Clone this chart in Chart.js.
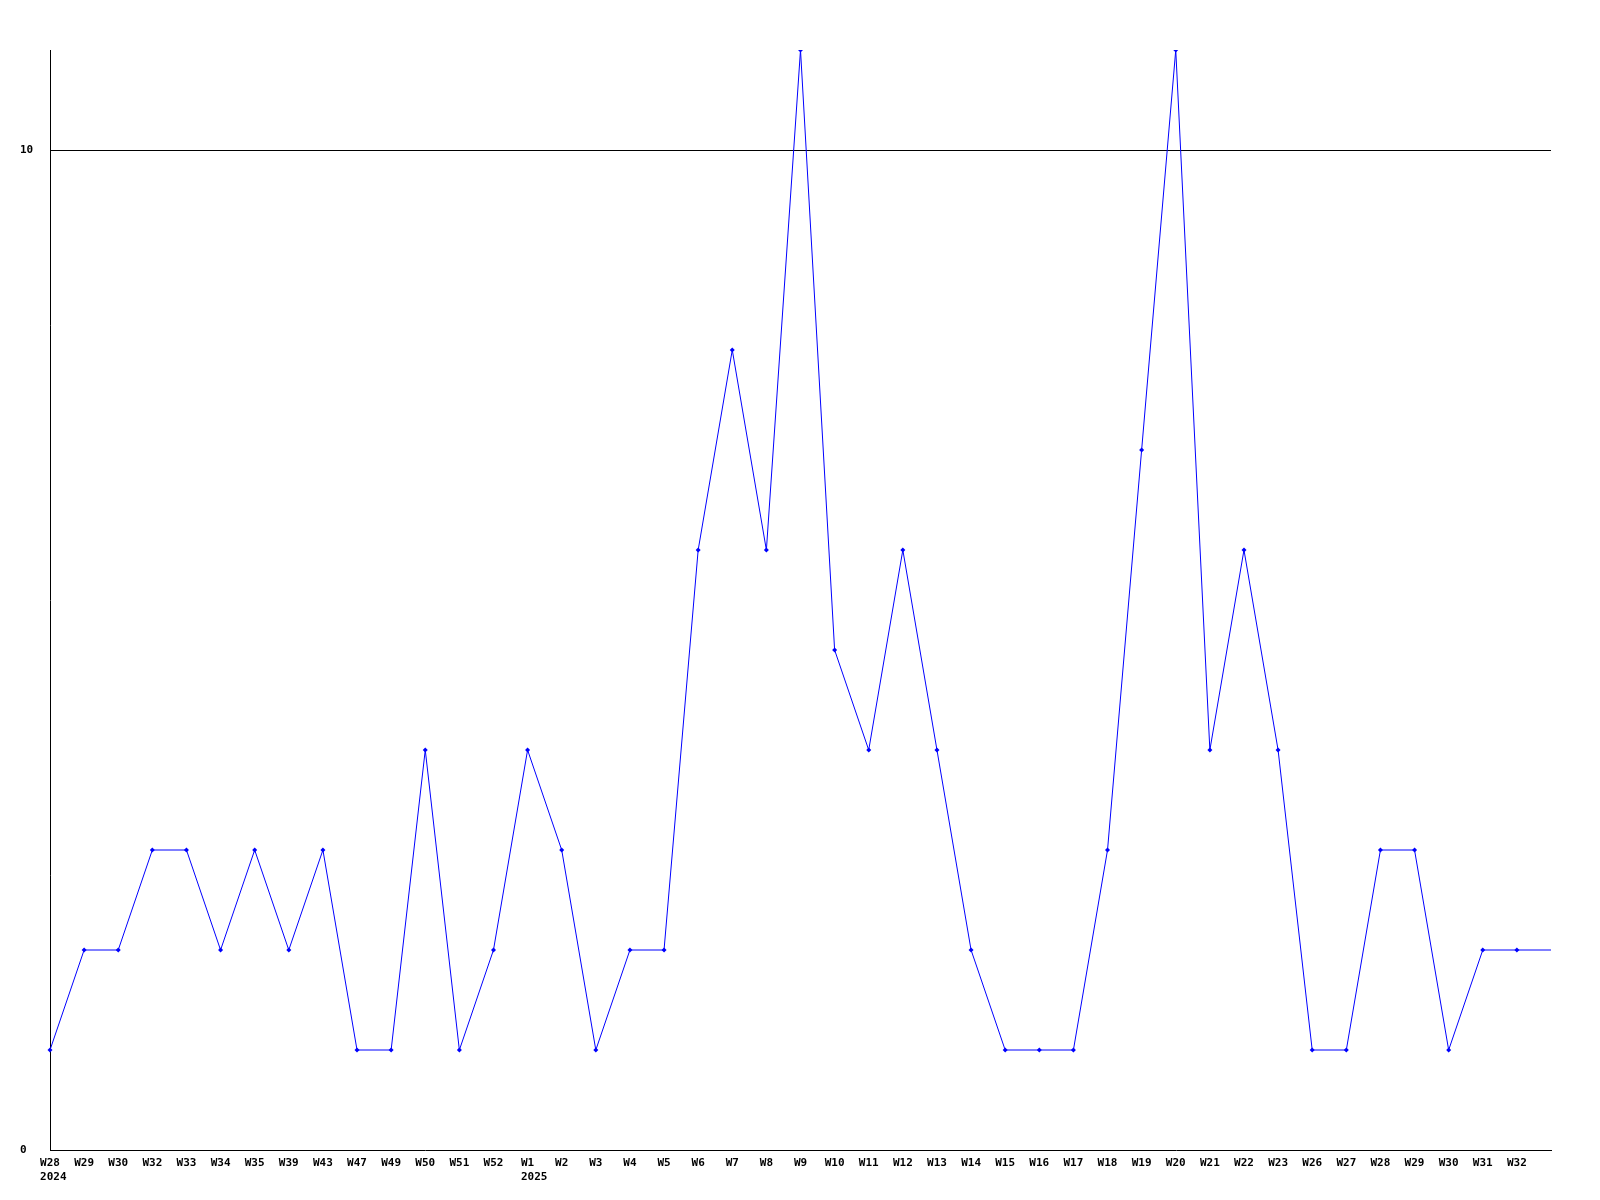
<!DOCTYPE html>
<html>
<head>
<meta charset="utf-8">
<script src="https://cdn.jsdelivr.net/npm/chart.js@4.4.0/dist/chart.umd.min.js"></script>
<style>
  html, body { margin: 0; padding: 0; background: #fff; }
  #wrap { width: 1600px; height: 1200px; }
</style>
</head>
<body>
<div id="wrap"><canvas id="weekChart" width="1600" height="1200"></canvas></div>
<script>
    // week labels (year shown under the first week of each year), last slot is the unlabeled edge
    const weekLabels = ["W28", "W29", "W30", "W32", "W33", "W34", "W35", "W39", "W43", "W47", "W49",
        "W50", "W51", "W52", "W1", "W2", "W3", "W4", "W5", "W6", "W7", "W8", "W9", "W10", "W11",
        "W12", "W13", "W14", "W15", "W16", "W17", "W18", "W19", "W20", "W21", "W22", "W23", "W26",
        "W27", "W28", "W29", "W30", "W31", "W32", ""];
    const yearLabels = { 0: "2024", 14: "2025" };
    const counts = [1, 2, 2, 3, 3, 2, 3, 2, 3, 1, 1,
        4, 1, 2, 4, 3, 1, 2, 2, 6, 8, 6, 11, 5, 4,
        6, 4, 2, 1, 1, 1, 3, 7, 11, 4, 6, 4, 1,
        1, 3, 3, 1, 2, 2, 2];
    const yTicks = [0, 10];

    // leading space keeps the year flush with the week text (mono font, centred lines)
    const labels = weekLabels.map((w, i) => {
        if (!yearLabels[i]) return w;
        const pad = ' '.repeat(Math.max(0, yearLabels[i].length - w.length));
        return [w, pad + yearLabels[i]];
    });
    const radii = counts.map((v, i) => i === counts.length - 1 ? 0 : 2.5);

    const fontMono = { family: "'DejaVu Sans Mono', 'Liberation Mono', monospace", size: 11, weight: 'bold' };

    const ctx = document.getElementById('weekChart').getContext('2d');
    new Chart(ctx, {
        type: 'line',
        data: {
            labels: labels,
            datasets: [{
                data: counts,
                borderColor: '#0000ff',
                backgroundColor: '#0000ff',
                borderWidth: 1,
                pointStyle: 'rectRot',
                pointRadius: radii,
                pointBorderWidth: 0,
                pointBackgroundColor: '#0000ff',
                fill: false,
                tension: 0
            }]
        },
        options: {
            responsive: false,
            animation: false,
            layout: { padding: { left: 20, top: 50, right: 49, bottom: 0 } },
            plugins: {
                legend: { display: false },
                tooltip: { enabled: false }
            },
            scales: {
                x: {
                    offset: false,
                    grid: { display: false, drawTicks: false },
                    border: { display: true, color: '#000', width: 1 },
                    ticks: {
                        autoSkip: false,
                        maxRotation: 0,
                        minRotation: 0,
                        padding: 7,
                        color: '#000',
                        font: fontMono,
                        lineHeight: 1.35
                    },
                    afterFit: function(axis) { axis.height = 50; }
                },
                y: {
                    min: 0,
                    max: 11,
                    afterBuildTicks: function(axis) {
                        axis.ticks = yTicks.map(v => ({ value: v }));
                    },
                    grid: {
                        drawTicks: false,
                        color: function(c) { return c.tick && c.tick.value === 10 ? '#000' : 'rgba(0,0,0,0)'; },
                        lineWidth: 1
                    },
                    border: { display: true, color: '#000', width: 1 },
                    ticks: {
                        color: '#000',
                        font: fontMono,
                        crossAlign: 'far',
                        padding: 4
                    },
                    afterFit: function(axis) { axis.width = 30; }
                }
            }
        }
    });
</script>
</body>
</html>
